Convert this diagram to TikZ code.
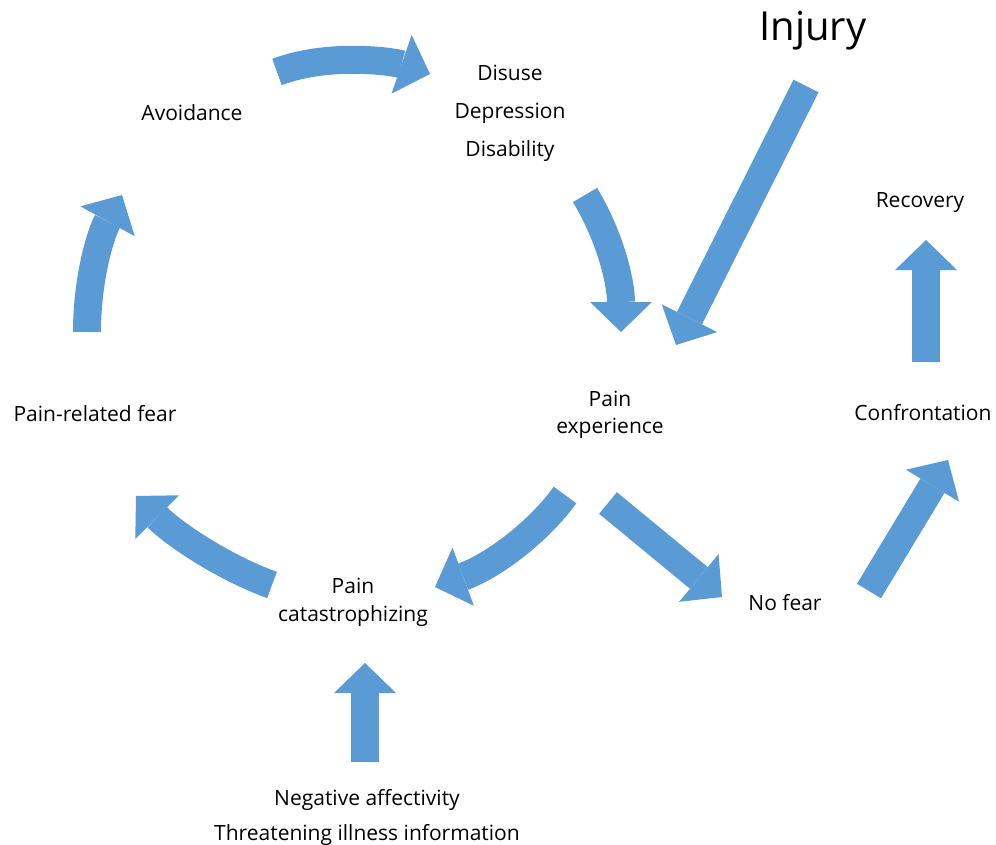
\documentclass[tikz,border=0pt]{standalone}
\usepackage{fontspec}
\setmainfont{Open Sans}
\usetikzlibrary{arrows.meta}
\definecolor{fablue}{HTML}{5B9BD5}
\tikzset{
  blockarrow/.style={draw=fablue, line width=28pt,
    -{Triangle[width=62pt,length=30pt,line width=0pt]}},
  lbl/.style={font=\fontsize{21}{27}\selectfont, inner sep=0pt, align=center},
}
\begin{document}
\begin{tikzpicture}[x=1pt,y=-1pt]
\useasboundingbox (0,0) rectangle (996,845);
% labels
\node[lbl] (avoid) at (192,113) {Avoidance};
\node[lbl, font=\fontsize{21}{38}\selectfont] (ddd) at (510,113) {Disuse\\Depression\\Disability};
\node[font=\fontsize{40}{44}\selectfont, inner sep=0pt] (injury) at (813,31) {Injury};
\node[lbl] (recov) at (920,203) {Recovery};
\node[lbl] (painexp) at (610,415) {Pain\\experience};
\node[lbl] (fear) at (95,414) {Pain-related fear};
\node[lbl] (confr) at (923,413) {Confrontation};
\node[lbl, font=\fontsize{21}{28}\selectfont] (cata) at (353,602) {Pain\\catastrophizing};
\node[lbl] (nofear) at (785,603) {No fear};
\node[lbl, font=\fontsize{21}{35}\selectfont] (negaff) at (367,817) {Negative affectivity\\Threatening illness information};
% arrow ends
\coordinate (a1) at (277,72);   \coordinate (b1) at (430,74);
\coordinate (a2) at (585,195);  \coordinate (b2) at (621,332);
\coordinate (a3) at (806,86);   \coordinate (b3) at (676,345);
\coordinate (a4) at (565,495);  \coordinate (b4) at (435,587);
\coordinate (a5) at (608,503);  \coordinate (b5) at (722,597);
\coordinate (a6) at (272,585);  \coordinate (b6) at (136,496);
\coordinate (a7) at (87,332);   \coordinate (b7) at (122,195);
\coordinate (a8) at (365,762);  \coordinate (b8) at (365,663);
\coordinate (a9) at (926,362);  \coordinate (b9) at (926,240);
\coordinate (a10) at (869,591); \coordinate (b10) at (948,460);
% block arrows
\draw[blockarrow] (a1) .. controls (330,52) and (395,62) .. (b1);
\draw[blockarrow] (a2) .. controls (612,240) and (621,285) .. (b2);
\draw[blockarrow] (a3) -- (b3);
\draw[blockarrow] (a4) .. controls (540,530) and (495,565) .. (b4);
\draw[blockarrow] (a5) -- (b5);
\draw[blockarrow] (a6) .. controls (225,568) and (175,535) .. (b6);
\draw[blockarrow] (a7) .. controls (87,280) and (100,235) .. (b7);
\draw[blockarrow] (a8) -- (b8);
\draw[blockarrow] (a9) -- (b9);
\draw[blockarrow] (a10) -- (b10);
\end{tikzpicture}
\end{document}
